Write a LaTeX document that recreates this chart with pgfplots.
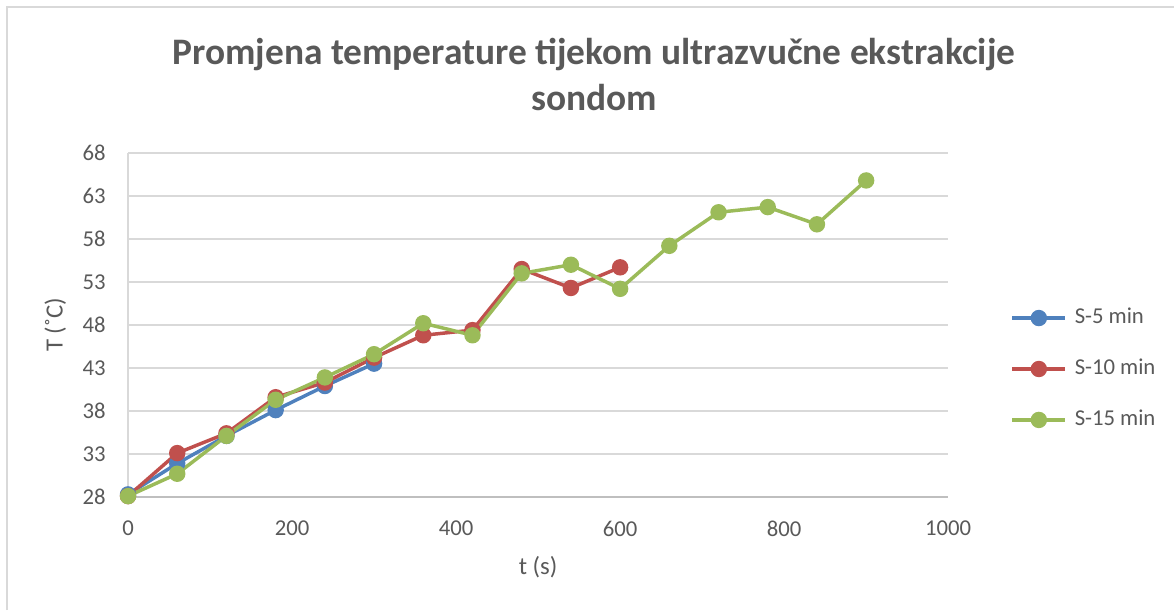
\documentclass[border=0pt]{standalone}
\usepackage{pgfplots}
\pgfplotsset{compat=1.18}
\usepackage{fontspec}
\setmainfont{Carlito}
\definecolor{txt}{HTML}{595959}
\definecolor{gridc}{HTML}{D9D9D9}
\definecolor{axc}{HTML}{BFBFBF}
\definecolor{sblue}{HTML}{4F81BD}
\definecolor{sred}{HTML}{C0504D}
\definecolor{sgreen}{HTML}{9BBB59}

\begin{document}
\begin{tikzpicture}[x=0.0136286cm,y=0.0136286cm]
% page frame (1174 x 610 px)
\path[use as bounding box] (0,0) rectangle (1174,610);
\draw[gridc,line width=0.8pt] (7,0) -- (7,603) -- (1174,603);

\node[txt,font=\fontsize{14.5}{17}\selectfont\bfseries] at (594,555) {Promjena temperature tijekom ultrazvučne ekstrakcije};
\node[txt,font=\fontsize{14.5}{17}\selectfont\bfseries] at (594,512) {sondom};

\begin{axis}[
    at={(1.7445cm,1.540cm)}, anchor=south west,
    scale only axis,
    width=11.175cm, height=4.688cm,
    xmin=0, xmax=1000, ymin=28, ymax=68,
    xtick={0,200,400,600,800,1000},
    ytick={28,33,38,43,48,53,58,63,68},
    major tick length=0pt,
    ymajorgrids=true,
    grid style={gridc,line width=0.8pt},
    axis x line*=bottom, axis y line*=left,
    x axis line style={-,draw=axc,line width=0.8pt},
    y axis line style={-,draw=gridc,line width=0.8pt},
    /pgf/number format/assume math mode=true,
    /pgf/number format/1000 sep={},
    ticklabel style={txt,font=\fontsize{8.8}{10}\selectfont,inner sep=0pt},
    yticklabel style={anchor=east,xshift=-8.5pt},
    xticklabel style={anchor=north,yshift=-9.2pt},
    xlabel={t (s)}, ylabel={T (˚C)},
    label style={txt,font=\fontsize{9.6}{11}\selectfont},
    xlabel style={at={(rel axis cs:0.5,0)},anchor=center,yshift=-27.4pt},
    ylabel style={at={(rel axis cs:0,0.5)},anchor=center,yshift=28.2pt},
    clip=false,
    every axis plot/.append style={line width=1.35pt,mark=*,mark size=2.5pt},
    legend style={at={(1.0756,0.372)},anchor=west,draw=none,fill=none,
        font=\fontsize{8.8}{10}\selectfont,text=txt,inner sep=0pt,
        row sep=8.2pt,cells={anchor=west},nodes={inner xsep=3pt}},
    legend image code/.code={\draw[mark repeat=2,mark phase=2,#1] plot coordinates {(0cm,0cm) (0.36cm,0cm) (0.72cm,0cm)};},
]
\addplot[sblue,mark options={fill=sblue,draw=sblue}] coordinates {
(0,28.3)(60,31.9)(120,35.1)(180,38.1)(240,40.9)(300,43.5)};
\addlegendentry{S-5 min}
\addplot[sred,mark options={fill=sred,draw=sred}] coordinates {
(0,28.1)(60,33.1)(120,35.4)(180,39.6)(240,41.3)(300,44.2)(360,46.8)(420,47.4)(480,54.5)(540,52.3)(600,54.7)};
\addlegendentry{S-10 min}
\addplot[sgreen,mark options={fill=sgreen,draw=sgreen}] coordinates {
(0,28.1)(60,30.7)(120,35.1)(180,39.3)(240,41.9)(300,44.6)(360,48.2)(420,46.8)(480,54.0)(540,55.0)(600,52.2)(660,57.2)(720,61.1)(780,61.7)(840,59.7)(900,64.8)};
\addlegendentry{S-15 min}
\end{axis}
\end{tikzpicture}
\end{document}
